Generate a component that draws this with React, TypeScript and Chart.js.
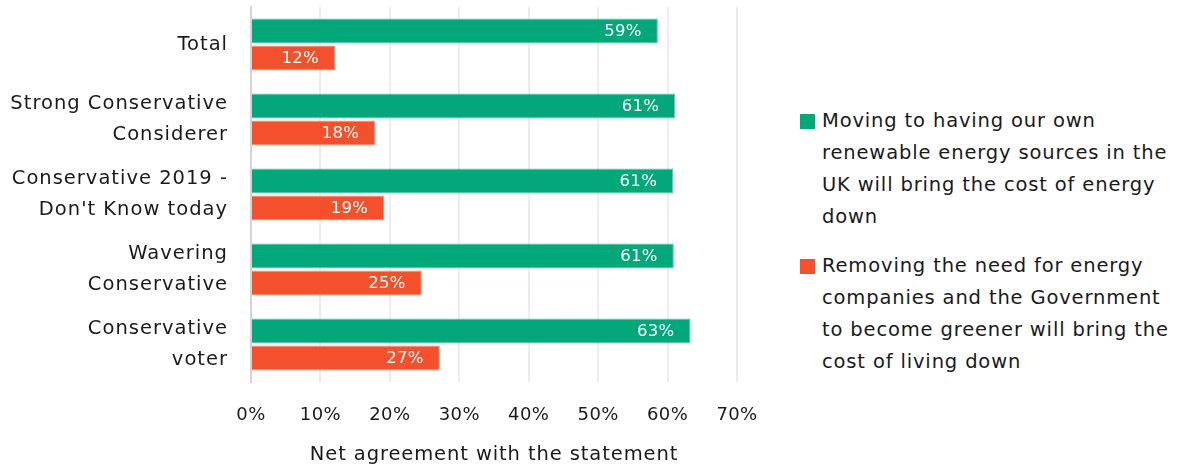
import React, { useEffect, useRef } from "react";
import { Chart, registerables } from "chart.js";

Chart.register(...registerables);

const categories: (string | string[])[] = [
  "Total",
  ["Strong Conservative", "Considerer"],
  ["Conservative 2019 -", "Don't Know today"],
  ["Wavering", "Conservative"],
  ["Conservative", "voter"],
];

const renewableValues = [58.6, 61.1, 60.8, 60.9, 63.3];
const greenerValues = [12.1, 17.9, 19.2, 24.6, 27.2];

const seriesNames = [
  ["Moving to having our own", "renewable energy sources in the", "UK will bring the cost of energy", "down"],
  ["Removing the need for energy", "companies and the Government", "to become greener will bring the", "cost of living down"],
];

const colors = ["#02A87A", "#F4502B"];
const borderColors = ["#5CC6A6", "#F79279"];

const xTicks = [0, 10, 20, 30, 40, 50, 60, 70];
const axisTitle = "Net agreement with the statement";

const FONT = "'DejaVu Sans', sans-serif";
const TEXT = "#1A1A1A";

function withSpacing(scale: any, fn: string, spacing: string) {
  const key = "__wrapped_" + fn;
  if (!scale || scale[key]) return;
  const orig = scale[fn].bind(scale);
  scale[fn] = (...args: any[]) => {
    const ctx = scale.ctx;
    const prev = ctx.letterSpacing;
    ctx.letterSpacing = spacing;
    orig(...args);
    ctx.letterSpacing = prev;
  };
  scale[key] = true;
}

const spacingPlugin = {
  id: "letterSpacing",
  afterUpdate(chart: any) {
    withSpacing(chart.scales.y, "drawLabels", "1px");
    withSpacing(chart.scales.x, "drawTitle", "0.9px");
    withSpacing(chart.scales.x, "drawLabels", "0.4px");
  },
};

const valueLabelPlugin = {
  id: "valueLabels",
  afterDatasetsDraw(chart: any) {
    const ctx = chart.ctx;
    ctx.save();
    ctx.font = `16.5px ${FONT}`;
    ctx.letterSpacing = "0.3px";
    ctx.fillStyle = "#FFFFFF";
    ctx.textAlign = "right";
    ctx.textBaseline = "middle";
    chart.data.datasets.forEach((ds: any, di: number) => {
      const meta = chart.getDatasetMeta(di);
      meta.data.forEach((bar: any, i: number) => {
        const v = ds.data[i];
        ctx.fillText(`${Math.round(v)}%`, bar.x - 16, bar.y + 1);
      });
    });
    ctx.restore();
  },
};

export default function App() {
  const ref = useRef<HTMLCanvasElement | null>(null);

  useEffect(() => {
    if (!ref.current) return;
    const chart = new Chart(ref.current, {
      type: "bar",
      data: {
        labels: categories as any,
        datasets: [
          {
            label: seriesNames[0].join(" "),
            data: renewableValues,
            backgroundColor: colors[0],
            borderColor: borderColors[0],
            borderWidth: 1,
            categoryPercentage: 0.72,
            barPercentage: 0.93,
          },
          {
            label: seriesNames[1].join(" "),
            data: greenerValues,
            backgroundColor: colors[1],
            borderColor: borderColors[1],
            borderWidth: 1,
            categoryPercentage: 0.72,
            barPercentage: 0.93,
          },
        ],
      },
      options: {
        indexAxis: "y",
        animation: false,
        responsive: false,
        maintainAspectRatio: false,
        layout: { padding: { top: 7, right: 33, bottom: 4, left: 0 } },
        plugins: {
          legend: { display: false },
          tooltip: { enabled: false },
        },
        scales: {
          x: {
            min: 0,
            max: 70,
            afterBuildTicks: (scale: any) => {
              scale.ticks = xTicks.map((v) => ({ value: v }));
            },
            afterFit: (scale: any) => {
              scale.height = 85;
              scale.paddingLeft = 0;
              scale.paddingRight = 0;
            },
            ticks: {
              callback: (v: any) => `${v}%`,
              color: TEXT,
              font: { family: FONT, size: 18 },
              padding: 23,
            },
            grid: {
              color: "#EDEDED",
              lineWidth: 2,
              drawTicks: false,
            },
            border: { display: false },
            title: {
              display: true,
              text: axisTitle,
              color: TEXT,
              font: { family: FONT, size: 19.5 },
              padding: { top: 10, bottom: 0 },
            },
          },
          y: {
            afterFit: (scale: any) => {
              scale.width = 251;
              scale.paddingTop = 0;
              scale.paddingBottom = 0;
            },
            ticks: {
              color: TEXT,
              font: { family: FONT, size: 19.5, lineHeight: 1.6 },
              padding: 23,
            },
            grid: { display: false, drawTicks: false },
            border: { display: true, color: "#D4D4D4", width: 2 },
          },
        },
      },
      plugins: [spacingPlugin, valueLabelPlugin],
    });
    return () => chart.destroy();
  }, []);

  return (
    <div
      style={{
        position: "fixed",
        left: 0,
        top: 0,
        width: 1178,
        height: 471,
        background: "#FFFFFF",
        fontFamily: FONT,
      }}
    >
      <canvas
        ref={ref}
        width={770}
        height={471}
        style={{ position: "absolute", left: 0, top: 0, width: 770, height: 471 }}
      />
      <div style={{ position: "absolute", left: 800, top: 105 }}>
        {seriesNames.map((lines, i) => (
          <div
            key={i}
            style={{ display: "flex", alignItems: "flex-start", marginBottom: 17 }}
          >
            <div
              style={{
                width: 15,
                height: 15,
                background: colors[i],
                marginTop: 9,
                marginRight: 7,
                flexShrink: 0,
              }}
            />
            <div
              style={{
                fontSize: 19.5,
                lineHeight: "32px",
                letterSpacing: "0.85px",
                color: TEXT,
              }}
            >
              {lines.map((l, j) => (
                <div key={j} style={{ whiteSpace: "nowrap" }}>
                  {l}
                </div>
              ))}
            </div>
          </div>
        ))}
      </div>
    </div>
  );
}
